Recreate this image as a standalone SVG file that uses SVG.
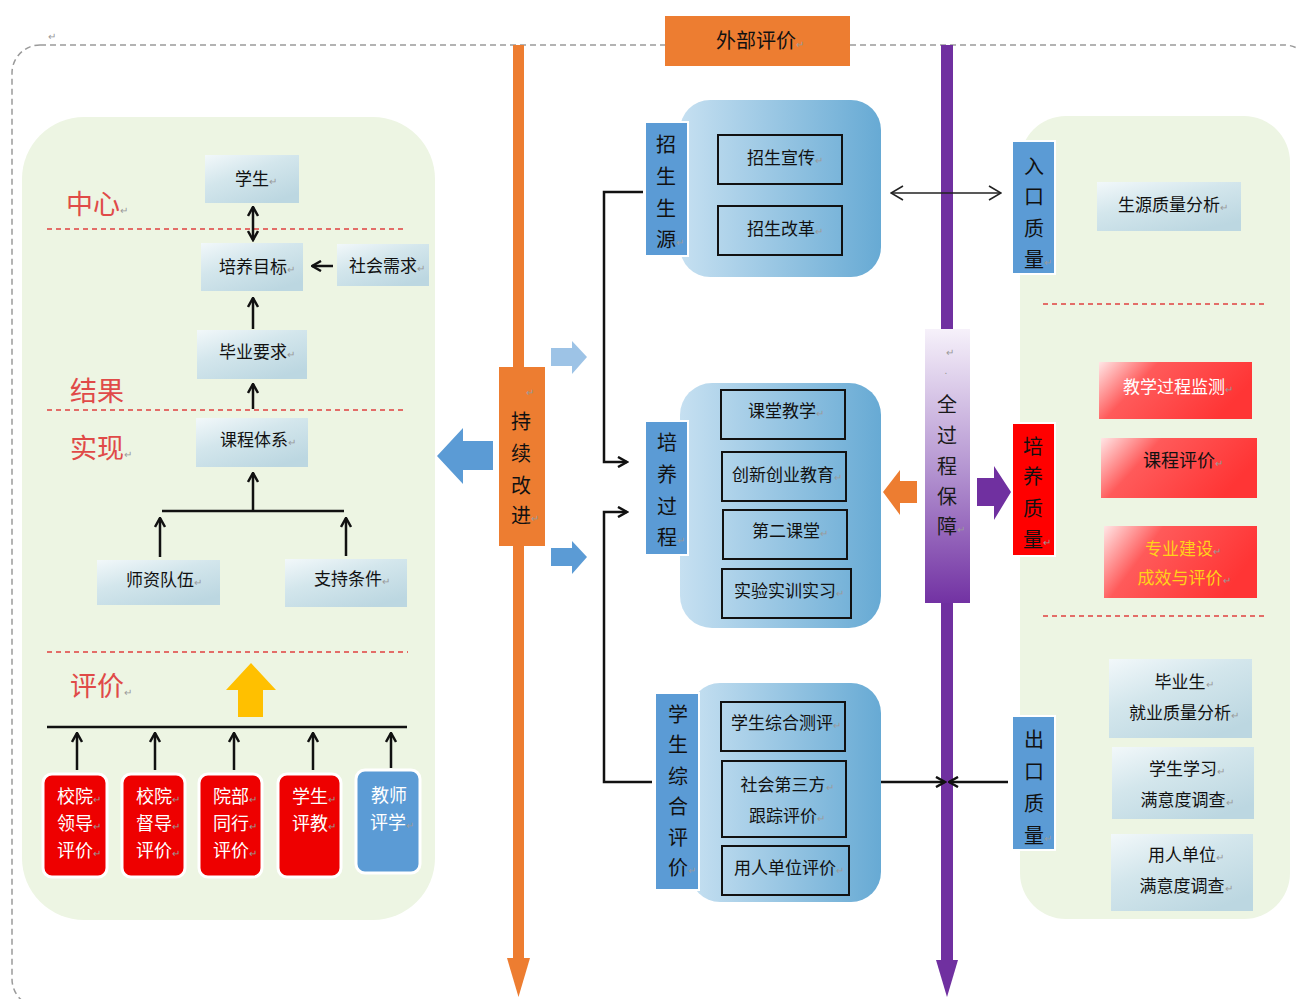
<svg xmlns="http://www.w3.org/2000/svg" width="1298" height="999" viewBox="0 0 1298 999">
<defs>
<style>
text{font-family:"Noto Sans CJK SC","Noto Sans",sans-serif;fill:#111}
.t{font-size:17px;text-anchor:middle}
.v{font-size:20px;text-anchor:middle}
.w{font-size:18px;text-anchor:middle;fill:#fff}
.cat{font-size:27px;fill:#e04a48}
.pm{font-size:10px;fill:#9a9a9a}
.lb{fill:url(#gLb)}
.inner{fill:none;stroke:#111;stroke-width:2}
.cont{fill:url(#gCont)}
.rd{fill:url(#gRed)}
.sep{stroke:#e04040;stroke-width:1.5;stroke-dasharray:5 4;fill:none}
.ln{stroke:#111;stroke-width:2.5;fill:none}
.vl{fill:#5b9bd5;stroke:#fff;stroke-width:2}
.ev{fill:#ee0000;stroke:#fff;stroke-width:3}
</style>
<linearGradient id="gLb" x1="0" y1="0" x2="0.7" y2="1">
<stop offset="0" stop-color="#f2f8fa"/><stop offset="0.45" stop-color="#d3e6ec"/><stop offset="1" stop-color="#bcd7e1"/>
</linearGradient>
<linearGradient id="gCont" x1="0" y1="0" x2="1" y2="0">
<stop offset="0" stop-color="#c6e0f1"/><stop offset="1" stop-color="#67aad4"/>
</linearGradient>
<linearGradient id="gRed" x1="0" y1="0" x2="1" y2="0.35">
<stop offset="0" stop-color="#ffe6e6"/><stop offset="0.35" stop-color="#ff5a5a"/><stop offset="1" stop-color="#ff3535"/>
</linearGradient>
<linearGradient id="gPur" x1="0" y1="0" x2="0" y2="1">
<stop offset="0" stop-color="#f6f1fa"/><stop offset="0.5" stop-color="#b697d2"/><stop offset="1" stop-color="#7232a3"/>
</linearGradient>
<marker id="ah" viewBox="0 0 12 12" refX="10.5" refY="6" markerWidth="12" markerHeight="12" markerUnits="userSpaceOnUse" orient="auto-start-reverse">
<path d="M1.5,1 L10.5,6 L1.5,11" fill="none" stroke="#111" stroke-width="2.5"/>
</marker>
<marker id="ahThin" viewBox="0 0 14 16" refX="13" refY="8" markerWidth="14" markerHeight="16" markerUnits="userSpaceOnUse" orient="auto-start-reverse">
<path d="M1,1 L13,8 L1,15" fill="none" stroke="#222" stroke-width="1.6"/>
</marker>
</defs>
<rect width="1298" height="999" fill="#fff"/>

<!-- outer dashed frame -->
<rect x="12" y="45" width="1300" height="962" rx="28" fill="none" stroke="#9a9a9a" stroke-width="1.5" stroke-dasharray="6 4"/>
<text x="48" y="40" class="pm">↵</text>

<!-- panels -->
<rect x="22" y="117" width="413" height="803" rx="62" fill="#edf5e3"/>
<rect x="1020" y="116" width="270" height="803" rx="46" fill="#edf5e3"/>

<!-- vertical bars -->
<g id="bars">
<rect x="513" y="45" width="11" height="915" fill="#ed7d31"/>
<polygon points="507,958 530,958 518.5,997" fill="#ed7d31"/>
<rect x="941" y="45" width="12" height="917" fill="#7030a0"/>
<polygon points="936,960 958,960 947,997" fill="#7030a0"/>
</g>

<!-- left panel categories -->
<g id="categories">
<text x="66" y="214" class="cat">中心<tspan class="pm">↵</tspan></text>
<text x="70" y="401" class="cat">结果</text>
<text x="70" y="458" class="cat">实现<tspan class="pm">↵</tspan></text>
<text x="70" y="696" class="cat">评价<tspan class="pm">↵</tspan></text>
<line x1="47" y1="229" x2="406" y2="229" class="sep"/>
<line x1="47" y1="410" x2="406" y2="410" class="sep"/>
<line x1="47" y1="652" x2="408" y2="652" class="sep"/>
<line x1="1043" y1="304" x2="1268" y2="304" class="sep"/>
<line x1="1043" y1="616" x2="1268" y2="616" class="sep"/>
</g>

<!-- connectors -->
<g id="connectors">
<line x1="253" y1="207" x2="253" y2="240" class="ln" marker-start="url(#ah)" marker-end="url(#ah)"/>
<line x1="333" y1="266" x2="312" y2="266" class="ln" marker-end="url(#ah)"/>
<line x1="253" y1="329" x2="253" y2="298" class="ln" marker-end="url(#ah)"/>
<line x1="253" y1="409" x2="253" y2="384" class="ln" marker-end="url(#ah)"/>
<line x1="253" y1="511" x2="253" y2="473" class="ln" marker-end="url(#ah)"/>
<line x1="162" y1="511" x2="344" y2="511" class="ln" stroke-width="3"/>
<line x1="160" y1="557" x2="160" y2="518" class="ln" marker-end="url(#ah)"/>
<line x1="346" y1="556" x2="346" y2="518" class="ln" marker-end="url(#ah)"/>
<line x1="47" y1="727" x2="407" y2="727" class="ln" stroke-width="3"/>
<line x1="77" y1="770" x2="77" y2="733" class="ln" marker-end="url(#ah)"/>
<line x1="155" y1="770" x2="155" y2="733" class="ln" marker-end="url(#ah)"/>
<line x1="234" y1="770" x2="234" y2="733" class="ln" marker-end="url(#ah)"/>
<line x1="313" y1="770" x2="313" y2="733" class="ln" marker-end="url(#ah)"/>
<line x1="391" y1="768" x2="391" y2="733" class="ln" marker-end="url(#ah)"/>
<polygon points="251,663 276,690 263,690 263,717 238,717 238,690 226,690" fill="#ffc000"/>
<polyline points="643,192 604,192 604,462 627,462" class="ln" marker-end="url(#ah)"/>
<polyline points="652,782 604,782 604,512 627,512" class="ln" marker-end="url(#ah)"/>
<line x1="891" y1="193" x2="1001" y2="193" stroke="#222" stroke-width="1.6" marker-start="url(#ahThin)" marker-end="url(#ahThin)"/>
<line x1="881" y1="782" x2="945" y2="782" class="ln" marker-end="url(#ah)"/>
<line x1="1008" y1="782" x2="949" y2="782" class="ln" marker-end="url(#ah)"/>
<polygon points="437,456 463,428 463,441 493,441 493,470 463,470 463,484" fill="#5b9bd5"/>
<polygon points="587,357 572,341 572,348 551,348 551,366 572,366 572,374" fill="#9dc3e6"/>
<polygon points="587,557 572,541 572,548 551,548 551,566 572,566 572,574" fill="#5b9bd5"/>
<polygon points="883,492 900,470 900,481 917,481 917,503 900,503 900,515" fill="#ed7d31"/>
<polygon points="1011,492 994,466 994,478 977,478 977,506 994,506 994,520" fill="#7030a0"/>
</g>

<!-- left nodes -->
<g id="n-xuesheng"><rect x="205" y="155" width="94" height="48" class="lb"/><text x="256" y="185" class="t">学生<tspan class="pm">↵</tspan></text></g>
<g id="n-peiyangmubiao"><rect x="201" y="243" width="102" height="48" class="lb"/><text x="257" y="273" class="t">培养目标<tspan class="pm">↵</tspan></text></g>
<g id="n-shehuixuqiu"><rect x="337" y="244" width="92" height="42" class="lb"/><text x="387" y="272" class="t">社会需求<tspan class="pm">↵</tspan></text></g>
<g id="n-biyeyaoqiu"><rect x="197" y="330" width="110" height="49" class="lb"/><text x="257" y="358" class="t">毕业要求<tspan class="pm">↵</tspan></text></g>
<g id="n-kechengtixi"><rect x="196" y="418" width="112" height="49" class="lb"/><text x="258" y="446" class="t">课程体系<tspan class="pm">↵</tspan></text></g>
<g id="n-shiziduiwu"><rect x="97" y="560" width="123" height="45" class="lb"/><text x="164" y="586" class="t">师资队伍<tspan class="pm">↵</tspan></text></g>
<g id="n-zhichitiaojian"><rect x="285" y="559" width="122" height="48" class="lb"/><text x="352" y="585" class="t">支持条件<tspan class="pm">↵</tspan></text></g>

<!-- evaluation boxes -->
<g id="n-e1"><rect x="43" y="774" width="64" height="103" rx="9" class="ev"/><text class="w"><tspan x="79" y="803">校院<tspan class="pm">↵</tspan></tspan><tspan x="79" y="830">领导<tspan class="pm">↵</tspan></tspan><tspan x="79" y="857">评价<tspan class="pm">↵</tspan></tspan></text></g>
<g id="n-e2"><rect x="122" y="774" width="63" height="103" rx="9" class="ev"/><text class="w"><tspan x="158" y="803">校院<tspan class="pm">↵</tspan></tspan><tspan x="158" y="830">督导<tspan class="pm">↵</tspan></tspan><tspan x="158" y="857">评价<tspan class="pm">↵</tspan></tspan></text></g>
<g id="n-e3"><rect x="199" y="774" width="63" height="103" rx="9" class="ev"/><text class="w"><tspan x="235" y="803">院部<tspan class="pm">↵</tspan></tspan><tspan x="235" y="830">同行<tspan class="pm">↵</tspan></tspan><tspan x="235" y="857">评价<tspan class="pm">↵</tspan></tspan></text></g>
<g id="n-e4"><rect x="278" y="774" width="63" height="103" rx="9" class="ev"/><text class="w"><tspan x="314" y="803">学生<tspan class="pm">↵</tspan></tspan><tspan x="314" y="830">评教<tspan class="pm">↵</tspan></tspan></text></g>
<g id="n-e5"><rect x="356" y="770" width="64" height="103" rx="9" fill="#5b9bd5" stroke="#fff" stroke-width="3"/><text class="w"><tspan x="389" y="802">教师</tspan><tspan x="392" y="829">评学<tspan class="pm">↵</tspan></tspan></text></g>

<!-- orange labels -->
<g id="n-waibupingjia"><rect x="665" y="16" width="185" height="50" fill="#ed7d31"/><text x="760" y="48" style="font-size:20px;text-anchor:middle">外部评价<tspan class="pm">↵</tspan></text></g>
<g id="n-chixugaijin"><rect x="499" y="367" width="46" height="179" fill="#ed7d31"/>
<text x="526" y="396" class="pm">↵</text>
<text class="v"><tspan x="521" y="429">持</tspan><tspan x="521" y="461">续</tspan><tspan x="521" y="493">改</tspan><tspan x="521" y="523">进</tspan></text><text x="531" y="522" class="pm">↵</text></g>

<!-- purple label -->
<g id="n-quanguocheng"><rect x="925" y="329" width="45" height="274" fill="url(#gPur)"/>
<text x="950" y="356" class="pm" text-anchor="middle">↵</text>
<text x="946" y="374" class="pm" text-anchor="middle">.</text>
<text class="v" style="fill:#1a1a1a"><tspan x="947" y="412">全</tspan><tspan x="947" y="443">过</tspan><tspan x="947" y="474">程</tspan><tspan x="947" y="504">保</tspan><tspan x="947" y="534">障</tspan></text><text x="957" y="533" class="pm">↵</text></g>

<!-- middle containers -->
<g id="n-zhaosheng">
<rect x="680" y="100" width="201" height="177" rx="30" class="cont"/>
<rect x="645" y="122" width="43" height="134" class="vl"/>
<text class="v"><tspan x="666" y="152">招</tspan><tspan x="666" y="184">生</tspan><tspan x="666" y="216">生</tspan><tspan x="666" y="247">源</tspan></text><text x="676" y="246" class="pm">↵</text>
<rect x="718" y="135" width="124" height="49" class="inner"/><text x="785" y="164" class="t">招生宣传<tspan class="pm">↵</tspan></text>
<rect x="718" y="206" width="124" height="49" class="inner"/><text x="785" y="235" class="t">招生改革<tspan class="pm">↵</tspan></text>
</g>
<g id="n-peiyangguocheng">
<rect x="680" y="383" width="201" height="245" rx="32" class="cont"/>
<rect x="645" y="421" width="43" height="134" class="vl"/>
<text class="v"><tspan x="667" y="450">培</tspan><tspan x="667" y="482">养</tspan><tspan x="667" y="514">过</tspan><tspan x="667" y="545">程</tspan></text><text x="677" y="544" class="pm">↵</text>
<rect x="721" y="390" width="124" height="49" class="inner"/><text x="786" y="417" class="t">课堂教学<tspan class="pm">↵</tspan></text>
<rect x="722" y="452" width="124" height="49" class="inner"/><text x="787" y="481" class="t">创新创业教育<tspan class="pm">↵</tspan></text>
<rect x="723" y="510" width="124" height="49" class="inner"/><text x="790" y="537" class="t">第二课堂<tspan class="pm">↵</tspan></text>
<rect x="722" y="569" width="129" height="49" class="inner"/><text x="789" y="597" class="t">实验实训实习<tspan class="pm">↵</tspan></text>
</g>
<g id="n-xueshengzonghe">
<rect x="690" y="683" width="191" height="219" rx="30" class="cont"/>
<rect x="655" y="693" width="44" height="197" class="vl"/>
<text class="v"><tspan x="678" y="722">学</tspan><tspan x="678" y="752">生</tspan><tspan x="678" y="784">综</tspan><tspan x="678" y="814">合</tspan><tspan x="678" y="845">评</tspan><tspan x="678" y="875">价</tspan></text><text x="688" y="874" class="pm">↵</text>
<rect x="721" y="702" width="124" height="49" class="inner"/><text x="786" y="729" class="t">学生综合测评<tspan class="pm">↵</tspan></text>
<rect x="722" y="761" width="124" height="76" class="inner"/><text class="t"><tspan x="787" y="791">社会第三方<tspan class="pm">↵</tspan></tspan><tspan x="787" y="822">跟踪评价<tspan class="pm">↵</tspan></tspan></text>
<rect x="722" y="846" width="127" height="49" class="inner"/><text x="789" y="874" class="t">用人单位评价<tspan class="pm">↵</tspan></text>
</g>

<!-- right side -->
<g id="n-rukou"><rect x="1012" y="141" width="43" height="133" class="vl"/>
<text class="v"><tspan x="1034" y="174">入</tspan><tspan x="1034" y="204">口</tspan><tspan x="1034" y="236">质</tspan><tspan x="1034" y="267">量</tspan></text><text x="1044" y="266" class="pm">↵</text></g>
<g id="n-shengyuan"><rect x="1097" y="182" width="144" height="49" class="lb"/><text x="1173" y="211" class="t">生源质量分析<tspan class="pm">↵</tspan></text></g>
<g id="n-peiyangzhiliang"><rect x="1012" y="423" width="43" height="133" fill="#ff0000" stroke="#fff" stroke-width="2"/>
<text class="v"><tspan x="1033" y="454">培</tspan><tspan x="1033" y="484">养</tspan><tspan x="1033" y="516">质</tspan><tspan x="1033" y="547">量</tspan></text><text x="1043" y="546" class="pm">↵</text></g>
<g id="n-jiaoxue"><rect x="1099" y="362" width="153" height="57" class="rd"/><text x="1178" y="393" class="t" style="fill:#fff">教学过程监测<tspan class="pm">↵</tspan></text></g>
<g id="n-kechengpingjia"><rect x="1101" y="438" width="156" height="60" class="rd"/><text x="1183" y="467" class="t" style="font-size:18px">课程评价<tspan class="pm">↵</tspan></text></g>
<g id="n-zhuanye"><rect x="1104" y="526" width="153" height="72" class="rd"/><text class="t" style="fill:#ffd21a"><tspan x="1183" y="555">专业建设<tspan class="pm">↵</tspan></tspan><tspan x="1184" y="584">成效与评价<tspan class="pm">↵</tspan></tspan></text></g>
<g id="n-chukou"><rect x="1012" y="716" width="43" height="134" class="vl"/>
<text class="v"><tspan x="1034" y="747">出</tspan><tspan x="1034" y="779">口</tspan><tspan x="1034" y="811">质</tspan><tspan x="1034" y="843">量</tspan></text><text x="1044" y="842" class="pm">↵</text></g>
<g id="n-jiuye"><rect x="1109" y="659" width="143" height="79" class="lb"/><text class="t"><tspan x="1184" y="688">毕业生<tspan class="pm">↵</tspan></tspan><tspan x="1184" y="719">就业质量分析<tspan class="pm">↵</tspan></tspan></text></g>
<g id="n-manyi1"><rect x="1112" y="747" width="142" height="72" class="lb"/><text class="t"><tspan x="1187" y="775">学生学习<tspan class="pm">↵</tspan></tspan><tspan x="1187" y="806">满意度调查<tspan class="pm">↵</tspan></tspan></text></g>
<g id="n-manyi2"><rect x="1111" y="834" width="142" height="77" class="lb"/><text class="t"><tspan x="1186" y="861">用人单位<tspan class="pm">↵</tspan></tspan><tspan x="1186" y="892">满意度调查<tspan class="pm">↵</tspan></tspan></text></g>
</svg>
